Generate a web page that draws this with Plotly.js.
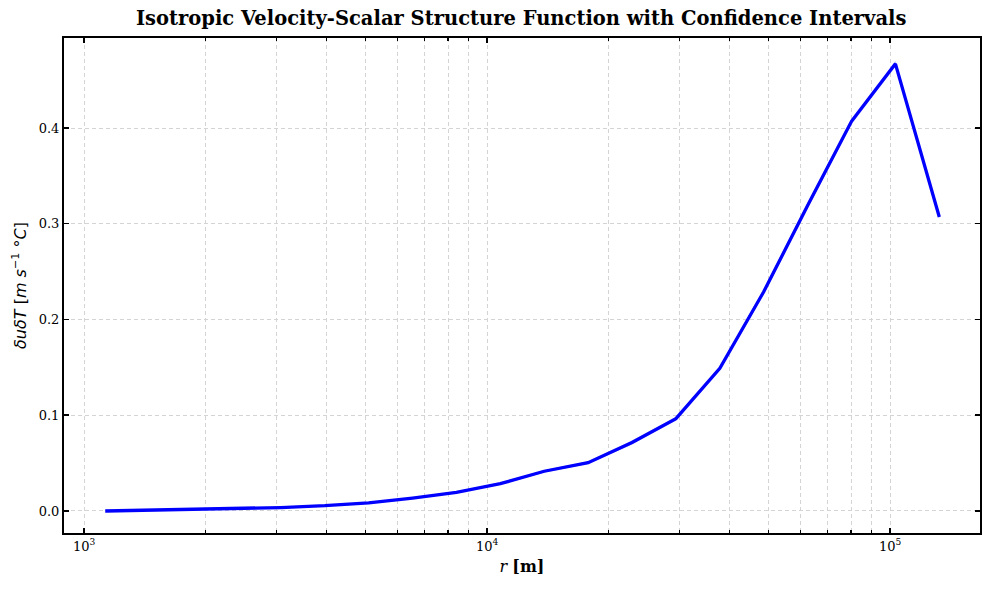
<!DOCTYPE html>
<html><head><meta charset="utf-8">
<script src="https://cdn.plot.ly/plotly-3.0.1.min.js"></script>
<style>html,body{margin:0;padding:0;background:#fff}#chart{width:989px;height:590px}</style>
</head><body><div id="chart"></div>
<script>
const r = [1128, 1450, 1863, 2394, 3077, 3954, 5081, 6530, 8391, 10783, 13857, 17807, 22884, 29408, 37792, 48566, 62412, 80206, 103070, 132450];
const sf = [0.000, 0.0007, 0.0014, 0.0024, 0.0036, 0.0055, 0.0085, 0.0135, 0.0195, 0.0285, 0.0415, 0.0505, 0.0715, 0.0965, 0.149, 0.229, 0.319, 0.407, 0.467, 0.307];
const lower = [-0.0005, 0.0002, 0.0009, 0.0018, 0.0030, 0.0048, 0.0077, 0.0126, 0.0185, 0.0273, 0.0402, 0.0491, 0.0695, 0.0945, 0.147, 0.226, 0.316, 0.404, 0.464, 0.305];
const upper = [0.0005, 0.0012, 0.0019, 0.0030, 0.0042, 0.0062, 0.0093, 0.0144, 0.0205, 0.0297, 0.0428, 0.0519, 0.0735, 0.0985, 0.151, 0.232, 0.322, 0.410, 0.470, 0.309];
const majorTicks = [1000, 10000, 100000];
const majorText = ['10<sup>3</sup>', '10<sup>4</sup>', '10<sup>5</sup>'];
const minorTicks = [2000,3000,4000,5000,6000,7000,8000,9000,20000,30000,40000,50000,60000,70000,80000,90000];
const yTicks = [0, 0.1, 0.2, 0.3, 0.4];
const yText = ['0.0', '0.1', '0.2', '0.3', '0.4'];

const traces = [
  {x: r, y: lower, mode: 'lines', line: {width: 0, color: 'rgba(0,0,255,0)'}, showlegend: false, hoverinfo: 'skip'},
  {x: r, y: upper, mode: 'lines', fill: 'tonexty', fillcolor: 'rgba(0,0,255,0.25)', line: {width: 0, color: 'rgba(0,0,255,0)'}, showlegend: false, hoverinfo: 'skip'},
  {x: r, y: sf, mode: 'lines', line: {color: '#0000ff', width: 3.3}, showlegend: false}
];

const gridStyle = {gridcolor: '#d4d4d4', griddash: '4px,3px', gridwidth: 1};
const layout = {
  width: 989, height: 590,
  margin: {l: 64, r: 9, t: 38, b: 57},
  paper_bgcolor: '#fff', plot_bgcolor: '#fff',
  font: {family: 'DejaVu Serif', size: 13, color: '#000'},
  title: {text: '<b>Isotropic Velocity-Scalar Structure Function with Confidence Intervals</b>', x: 0.527, xanchor: 'center', y: 0.969, yanchor: 'middle', font: {family: 'DejaVu Serif', size: 19.5, color: '#000'}},
  xaxis: {
    type: 'log', range: [2.950, 5.223],
    tickmode: 'array', tickvals: majorTicks, ticktext: majorText,
    ticks: 'inside', ticklen: 5, tickwidth: 1.5, tickcolor: '#000',
    showline: true, linecolor: '#000', linewidth: 2, mirror: 'allticks',
    showgrid: true, ...gridStyle, zeroline: false,
    tickfont: {family: 'DejaVu Serif', size: 13},
    minor: {tickmode: 'array', tickvals: minorTicks, ticks: 'inside', ticklen: 3, tickwidth: 1.2, tickcolor: '#000', showgrid: true, ...gridStyle},
    title: {text: '<i>r</i> <b>[m]</b>', font: {family: 'DejaVu Serif', size: 16}, standoff: 8}
  },
  yaxis: {
    range: [-0.023, 0.494],
    tickmode: 'array', tickvals: yTicks, ticktext: yText,
    ticks: 'inside', ticklen: 5, tickwidth: 1.5, tickcolor: '#000',
    showline: true, linecolor: '#000', linewidth: 2, mirror: 'allticks',
    showgrid: true, ...gridStyle, zeroline: false,
    tickfont: {family: 'DejaVu Serif', size: 13},
    title: {text: '<i>δuδT</i> [<i>m s</i><sup>−1</sup> °<i>C</i>]', font: {family: 'DejaVu Sans', size: 16}, standoff: 8}
  }
};
Plotly.newPlot('chart', traces, layout, {staticPlot: true});
</script></body></html>
